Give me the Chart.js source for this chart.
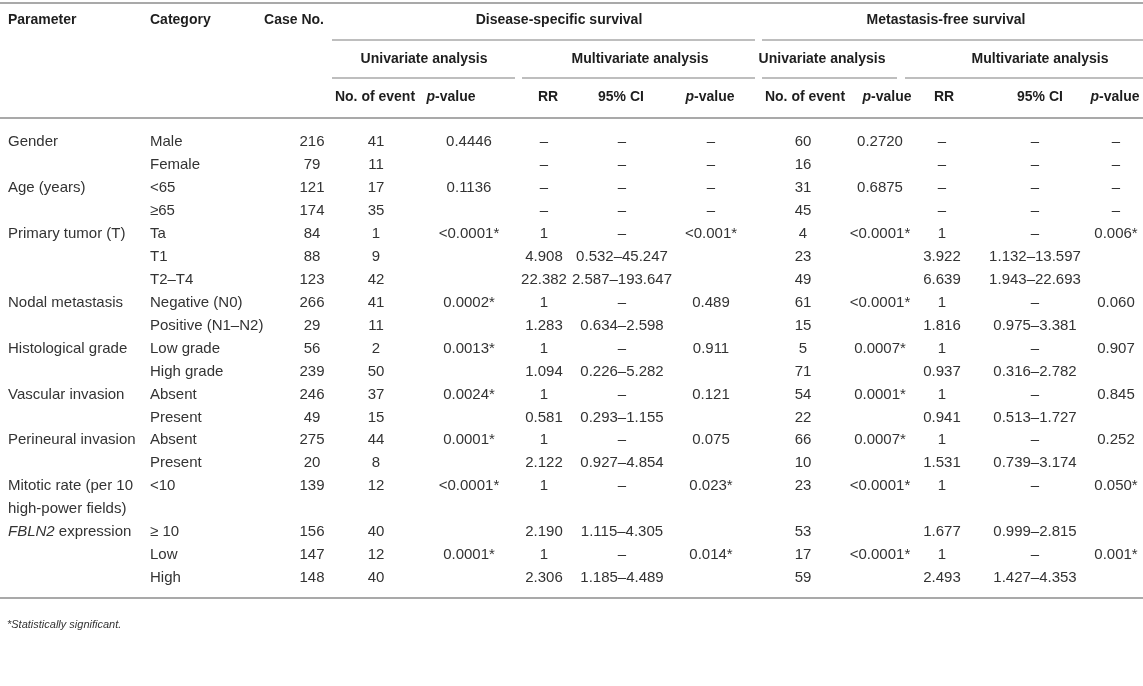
<!DOCTYPE html>
<html>
<head>
<meta charset="utf-8">
<script src="https://cdn.jsdelivr.net/npm/chart.js@4"></script>
<style>
html, body { margin: 0; padding: 0; background: #fff; }
#wrap { width: 1143px; height: 686px; }
</style>
</head>
<body>
<div id="wrap"><canvas id="myChart"></canvas></div>
<script>
// table content, one entry per body row
const parameters = ['Gender', '', 'Age (years)', '', 'Primary tumor (T)', '', '', 'Nodal metastasis', '',
    'Histological grade', '', 'Vascular invasion', '', 'Perineural invasion', '', 'Mitotic rate (per 10',
    'high-power fields)', '_FBLN2_ expression', '', ''];
const categories = ['Male', 'Female', '<65', '≥65', 'Ta', 'T1', 'T2–T4', 'Negative (N0)', 'Positive (N1–N2)',
    'Low grade', 'High grade', 'Absent', 'Present', 'Absent', 'Present', '<10', '', '≥ 10', 'Low', 'High'];
const caseNo = ['216', '79', '121', '174', '84', '88', '123', '266', '29', '56', '239', '246', '49', '275', '20',
    '139', '', '156', '147', '148'];

const dssEvents = ['41', '11', '17', '35', '1', '9', '42', '41', '11', '2', '50', '37', '15', '44', '8', '12', '', '40', '12', '40'];
const dssUniP = ['0.4446', '', '0.1136', '', '<0.0001*', '', '', '0.0002*', '', '0.0013*', '', '0.0024*', '',
    '0.0001*', '', '<0.0001*', '', '', '0.0001*', ''];
const dssRR = ['–', '–', '–', '–', '1', '4.908', '22.382', '1', '1.283', '1', '1.094', '1', '0.581', '1', '2.122',
    '1', '', '2.190', '1', '2.306'];
const dssCI = ['–', '–', '–', '–', '–', '0.532–45.247', '2.587–193.647', '–', '0.634–2.598', '–', '0.226–5.282',
    '–', '0.293–1.155', '–', '0.927–4.854', '–', '', '1.115–4.305', '–', '1.185–4.489'];
const dssMultiP = ['–', '–', '–', '–', '<0.001*', '', '', '0.489', '', '0.911', '', '0.121', '', '0.075', '',
    '0.023*', '', '', '0.014*', ''];

const mfsEvents = ['60', '16', '31', '45', '4', '23', '49', '61', '15', '5', '71', '54', '22', '66', '10', '23', '', '53', '17', '59'];
const mfsUniP = ['0.2720', '', '0.6875', '', '<0.0001*', '', '', '<0.0001*', '', '0.0007*', '', '0.0001*', '',
    '0.0007*', '', '<0.0001*', '', '', '<0.0001*', ''];
const mfsRR = ['–', '–', '–', '–', '1', '3.922', '6.639', '1', '1.816', '1', '0.937', '1', '0.941', '1', '1.531',
    '1', '', '1.677', '1', '2.493'];
const mfsCI = ['–', '–', '–', '–', '–', '1.132–13.597', '1.943–22.693', '–', '0.975–3.381', '–', '0.316–2.782',
    '–', '0.513–1.727', '–', '0.739–3.174', '–', '', '0.999–2.815', '–', '1.427–4.353'];
const mfsMultiP = ['–', '–', '–', '–', '0.006*', '', '', '0.060', '', '0.907', '', '0.845', '', '0.252', '',
    '0.050*', '', '', '0.001*', ''];

const groupTitles = ['Disease-specific survival', 'Metastasis-free survival'];
const analysisTitles = ['Univariate analysis', 'Multivariate analysis', 'Univariate analysis', 'Multivariate analysis'];
const columnTitles = ['Parameter', 'Category', 'Case No.', 'No. of event', '_p_-value', 'RR', '95% CI', '_p_-value',
    'No. of event', '_p_-value', 'RR', '95% CI', '_p_-value'];
const footnote = '*Statistically significant.';

const columns = [parameters, categories, caseNo, dssEvents, dssUniP, dssRR, dssCI, dssMultiP,
    mfsEvents, mfsUniP, mfsRR, mfsCI, mfsMultiP];

// layout (scale units == pixels of the 1143x686 area)
const colX = [8, 150, 312, 376, 469, 544, 622, 711, 803, 880, 942, 1035, 1116];
const colAlign = ['left', 'left', 'center', 'center', 'center', 'center', 'center', 'center', 'center', 'center', 'center', 'center', 'center'];
const headX = [8, 150, 294, 375, 451, 548, 621, 710, 805, 887, 944, 1040, 1115];
const groupX = [559, 946];
const analysisX = [424, 640, 822, 1040];
const headY = [20, 59, 97];
const bodyTop = 142, rowStep = 22.95;
const ruleColor = '#a9a9a9';
const textColor = '#333333';
const headColor = '#1e1e1e';

// "_x_" marks italic pieces
function pieces(str) {
    if (str.indexOf('_') === -1) return [[str, false]];
    return str.split('_').map((p, i) => [p, i % 2 === 1]).filter(p => p[0]);
}

function drawText(ctx, str, x, y, align, opts) {
    const parts = opts.allItalic ? [[str, true]] : pieces(str);
    const fontFor = it => `${it ? 'italic ' : ''}${opts.bold ? 'bold ' : ''}${opts.size}px "Liberation Sans", Arial, sans-serif`;
    let total = 0;
    parts.forEach(p => { ctx.font = fontFor(p[1]); total += ctx.measureText(p[0]).width; });
    let cx = align === 'center' ? x - total / 2 : (align === 'right' ? x - total : x);
    ctx.fillStyle = opts.color;
    ctx.textBaseline = 'middle';
    ctx.textAlign = 'left';
    parts.forEach(p => {
        ctx.font = fontFor(p[1]);
        ctx.fillText(p[0], cx, y);
        cx += ctx.measureText(p[0]).width;
    });
}

const tablePlugin = {
    id: 'tablePlugin',
    afterDraw(chart) {
        const ctx = chart.ctx;
        const xs = chart.scales.x, ys = chart.scales.y;
        const X = v => xs.getPixelForValue(v), Y = v => ys.getPixelForValue(v);
        ctx.save();

        const rule = (x0, x1, y, w) => {
            ctx.strokeStyle = ruleColor;
            ctx.lineWidth = w;
            ctx.beginPath();
            ctx.moveTo(X(x0), Y(y));
            ctx.lineTo(X(x1), Y(y));
            ctx.stroke();
        };
        rule(0, 1143, 3, 2);
        rule(332, 755, 40, 1.5);
        rule(762, 1143, 40, 1.5);
        rule(332, 515, 78, 1.5);
        rule(522, 755, 78, 1.5);
        rule(762, 897, 78, 1.5);
        rule(905, 1143, 78, 1.5);
        rule(0, 1143, 118, 2);
        rule(0, 1143, 598, 2);

        // header
        const head = { bold: true, size: 14, color: headColor };
        drawText(ctx, columnTitles[0], X(headX[0]), Y(headY[0]), 'left', head);
        drawText(ctx, columnTitles[1], X(headX[1]), Y(headY[0]), 'left', head);
        drawText(ctx, columnTitles[2], X(headX[2]), Y(headY[0]), 'center', head);
        groupTitles.forEach((t, i) => drawText(ctx, t, X(groupX[i]), Y(headY[0]), 'center', head));
        analysisTitles.forEach((t, i) => drawText(ctx, t, X(analysisX[i]), Y(headY[1]), 'center', head));
        for (let c = 3; c < columnTitles.length; c++) {
            drawText(ctx, columnTitles[c], X(headX[c]), Y(headY[2]), 'center', head);
        }

        // body
        const body = { bold: false, size: 15, color: textColor };
        columns.forEach((col, c) => {
            col.forEach((v, r) => {
                if (!v) return;
                drawText(ctx, v, X(colX[c]), Y(bodyTop + r * rowStep), colAlign[c], body);
            });
        });

        drawText(ctx, footnote, X(7), Y(625), 'left', { bold: false, size: 11, color: textColor, allItalic: true });
        ctx.restore();
    }
};

new Chart(document.getElementById('myChart'), {
    type: 'scatter',
    data: { datasets: [] },
    options: {
        responsive: true,
        maintainAspectRatio: false,
        animation: false,
        layout: { padding: 0 },
        plugins: { legend: { display: false }, tooltip: { enabled: false } },
        scales: {
            x: { type: 'linear', min: 0, max: 1143, display: false },
            y: { type: 'linear', min: 0, max: 686, reverse: true, display: false }
        }
    },
    plugins: [tablePlugin]
});
</script>
</body>
</html>
